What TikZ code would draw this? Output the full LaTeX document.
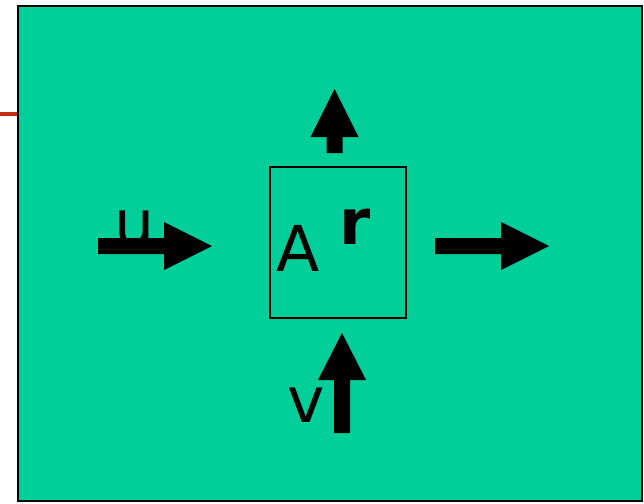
\documentclass[tikz,border=0pt]{standalone}
\usepackage{fontspec}
\setmainfont{DejaVu Sans}

\definecolor{verde}{HTML}{00CF99}
\definecolor{rojo}{HTML}{C0300F}

\tikzset{
    flecha/.style={fill=black},
    letra/.style={anchor=base, inner sep=0pt, font=\fontsize{36}{36}\selectfont},
}

\begin{document}
\begin{tikzpicture}[x=0.02cm, y=-0.02cm]
    \useasboundingbox (0,0) rectangle (644,503);

    % Fondo
    \draw[rojo, line width=2pt] (0,114) -- (18,114);
    \draw[black, line width=1.2pt, fill=verde] (18,6) rectangle (642,501);

    % Cuadrado
    \draw[black, line width=1.1pt] (270,167) rectangle (406,318);

    % Letras
    \node[letra] (u) at (135,245) {u};
    \node[letra] (A) at (298.5,271.5) {A};
    \node[letra, font=\fontsize{36}{36}\selectfont\bfseries] (r) at (355,244) {r};
    \node[letra] (v) at (306,422) {v};

    % Flechas
    \fill[flecha] (98,238) -- (164,238) -- (164,222) -- (212,246) -- (164,270) -- (164,254) -- (98,254) -- cycle;
    \fill[flecha] (435,238) -- (501,238) -- (501,222) -- (549,246) -- (501,270) -- (501,254) -- (435,254) -- cycle;
    \fill[flecha] (326.5,153) -- (326.5,137) -- (310.5,137) -- (334.5,89) -- (358.5,137) -- (342.5,137) -- (342.5,153) -- cycle;
    \fill[flecha] (334,433) -- (334,380) -- (318,380) -- (342,333) -- (366,380) -- (350,380) -- (350,433) -- cycle;
\end{tikzpicture}
\end{document}
